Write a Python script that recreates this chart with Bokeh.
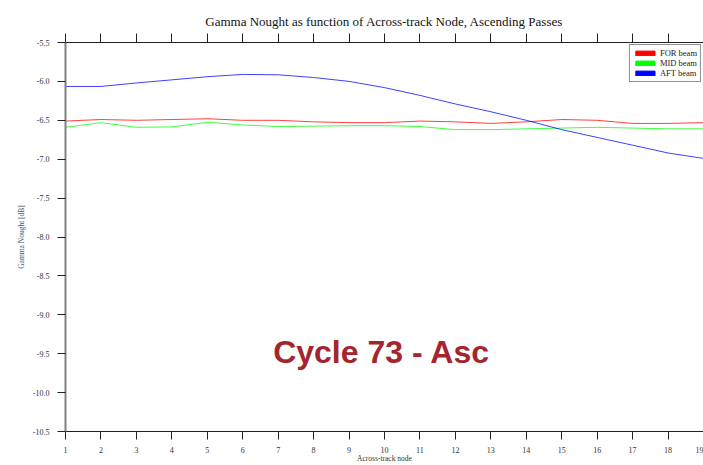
from bokeh.plotting import figure
from bokeh.models import (Range1d, LinearAxis, FixedTicker, PrintfTickFormatter,
                          Legend, LegendItem, Label)
from bokeh.embed import file_html
from bokeh.resources import INLINE

# Across-track node numbers and mean gamma nought per beam [dB]
nodes = list(range(1, 20))
for_beam = [-6.51, -6.49, -6.50, -6.49, -6.48, -6.50, -6.50, -6.52, -6.53, -6.53,
            -6.51, -6.52, -6.54, -6.52, -6.49, -6.50, -6.54, -6.54, -6.53]
mid_beam = [-6.59, -6.53, -6.59, -6.585, -6.525, -6.56, -6.58, -6.575, -6.57, -6.57,
            -6.58, -6.62, -6.62, -6.61, -6.60, -6.59, -6.60, -6.61, -6.61]
aft_beam = [-6.065, -6.065, -6.02, -5.98, -5.94, -5.91, -5.915, -5.95, -6.00, -6.08,
            -6.18, -6.29, -6.39, -6.50, -6.62, -6.72, -6.82, -6.92, -6.99]

beam_names = ["FOR beam", "MID beam", "AFT beam"]
beam_colors = ["#ff0000", "#00ff00", "#0000ff"]
y_ticks = [-5.5, -6.0, -6.5, -7.0, -7.5, -8.0, -8.5, -9.0, -9.5, -10.0, -10.5]

SERIF = "Liberation Serif"

p = figure(width=703, height=465, output_backend="svg", toolbar_location=None,
           x_range=Range1d(1, 19), y_range=Range1d(-10.5, -5.5),
           min_border_left=65, min_border_right=0, min_border_top=42,
           min_border_bottom=33)
p.xgrid.visible = False
p.ygrid.visible = False
p.outline_line_color = None
p.background_fill_color = "white"
p.border_fill_color = "white"

p.title.text = "Gamma Nought as function of Across-track Node, Ascending Passes"
p.title.align = "center"
p.title.text_font = SERIF
p.title.text_font_size = "13px"
p.title.text_font_style = "normal"
p.title.text_color = "#111111"

# bottom axis; its title is pulled up tight against the tick labels
xa = p.xaxis[0]
xa.ticker = FixedTicker(ticks=nodes)
xa.axis_label = "Across-track node"
xa.axis_label_text_font = SERIF
xa.axis_label_text_font_size = "7.5px"
xa.axis_label_text_font_style = "normal"
xa.axis_label_text_color = "#333333"
xa.axis_label_standoff = -2
xa.major_label_text_font = SERIF
xa.major_label_text_font_size = "8px"
xa.major_label_text_color = "#333333"
xa.major_label_standoff = 7
xa.major_tick_out = 8
xa.major_tick_in = 0
xa.minor_tick_line_color = None
xa.axis_line_color = "#222222"
xa.major_tick_line_color = "#222222"

# left axis
ya = p.yaxis[0]
ya.ticker = FixedTicker(ticks=y_ticks)
ya.formatter = PrintfTickFormatter(format="%.1f")
ya.axis_label = "Gamma Nought [dB]"
ya.axis_label_text_font = SERIF
ya.axis_label_text_font_size = "7.5px"
ya.axis_label_text_font_style = "normal"
ya.axis_label_text_color = "#555555"
ya.axis_label_standoff = 4
ya.major_label_text_font = SERIF
ya.major_label_text_font_size = "8px"
ya.major_label_text_color = "#333333"
ya.major_label_standoff = 8
ya.major_tick_out = 8
ya.major_tick_in = 0
ya.minor_tick_line_color = None
ya.axis_line_color = "#808080"
ya.axis_line_width = 2
ya.major_tick_line_color = "#222222"

# top axis: tick marks only, labels not rendered
top = LinearAxis(ticker=FixedTicker(ticks=nodes), major_label_text_font_size="1px",
                 major_label_text_color=None, major_label_standoff=0,
                 major_tick_out=9, major_tick_in=0,
                 minor_tick_line_color=None, axis_line_color="#222222",
                 major_tick_line_color="#222222")
p.add_layout(top, "above")

# beam curves
for vals, color in zip([for_beam, mid_beam, aft_beam], beam_colors):
    p.line(nodes, vals, line_color=color, line_width=1, line_alpha=0.75)

# legend swatches as filled boxes (placed off the visible range)
items = []
for name, color in zip(beam_names, beam_colors):
    r = p.quad(left=[100], right=[101], top=[100], bottom=[99],
               fill_color=color, line_color=color)
    items.append(LegendItem(label=name, renderers=[r]))

legend = Legend(items=items, location="top_right", margin=2, padding=3, spacing=0,
                glyph_width=24, glyph_height=6, label_height=8, label_standoff=3,
                label_text_font=SERIF, label_text_font_size="8.5px",
                label_text_color="#222222", border_line_color="#222222",
                border_line_width=1, background_fill_color="white",
                background_fill_alpha=1)
p.add_layout(legend)

p.add_layout(Label(x=9.92, y=-9.475, text="Cycle 73 - Asc", text_align="center",
                   text_baseline="middle", text_font="Liberation Sans",
                   text_font_style="bold", text_font_size="32px",
                   text_color="#a3262e"))

open("out.html", "w").write(file_html(p, INLINE))
